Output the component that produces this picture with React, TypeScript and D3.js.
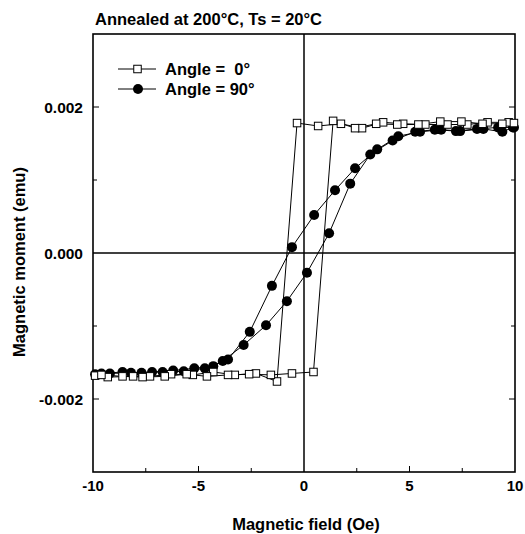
import React from "react";
import * as d3 from "d3";

const title = "Annealed at 200°C, Ts = 20°C";
const xLabel = "Magnetic field (Oe)";
const yLabel = "Magnetic moment (emu)";
const xTicks = [-10, -5, 0, 5, 10];
const xMinorTicks = [-7.5, -5, -2.5, 2.5, 5, 7.5];
const yTicks = [0.002, 0, -0.002];
const yMinorTicks = [0.002, 0.001, -0.001, -0.002];
const legendLabels = ["Angle =  0°", "Angle = 90°"];

// Angle = 0 (squares): descending branch then ascending branch
const sqDescH = [9.7, 8.7, 7.74, 6.8, 5.75, 4.7, 3.75, 2.75, 1.75, 0.67, -0.33, -1.28, -2.28, -3.28, -4.3, -5.27, -6.3, -7.3, -8.1, -9.3, -9.9];
const sqDescM = [0.00179, 0.00179, 0.00176, 0.00176, 0.00176, 0.00177, 0.00179, 0.00171, 0.00177, 0.00174, 0.00178, -0.00176, -0.00165, -0.00167, -0.00163, -0.00167, -0.00166, -0.00169, -0.00169, -0.0017, -0.00168];
const sqAscH = [-9.6, -8.6, -7.65, -6.6, -5.56, -4.6, -3.6, -2.6, -1.57, -0.57, 0.45, 1.38, 2.42, 3.42, 4.42, 5.42, 6.46, 7.46, 8.46, 9.4, 9.95];
const sqAscM = [-0.00167, -0.00169, -0.0017, -0.00169, -0.00166, -0.00169, -0.00167, -0.00166, -0.00167, -0.00165, -0.00163, 0.00181, 0.00171, 0.00177, 0.00176, 0.00176, 0.0018, 0.0018, 0.00177, 0.00177, 0.00178];

// Angle = 90 (circles)
const ciDescH = [9.9, 9.4, 8.5, 7.4, 6.5, 5.5, 4.47, 3.47, 2.42, 1.47, 0.48, -0.57, -1.52, -2.57, -3.6, -4.7, -5.7, -6.7, -7.7, -8.6, -9.6];
const ciDescM = [0.00172, 0.00166, 0.0017, 0.00167, 0.00169, 0.00166, 0.0016, 0.00142, 0.00116, 0.00086, 0.00052, 0.00008, -0.00045, -0.00108, -0.00146, -0.00158, -0.00162, -0.00163, -0.00164, -0.00163, -0.00165];
const ciAscH = [-9.9, -9.2, -8.2, -7.2, -6.2, -5.2, -4.3, -3.85, -2.86, -1.8, -0.81, 0.14, 1.19, 2.19, 3.14, 4.2, 5.27, 6.2, 7.2, 8.2, 9.2, 9.95];
const ciAscM = [-0.00166, -0.00165, -0.00164, -0.00163, -0.00161, -0.00158, -0.00155, -0.00148, -0.00126, -0.00099, -0.00066, -0.00027, 0.00027, 0.00095, 0.00135, 0.00154, 0.00166, 0.00169, 0.00167, 0.0017, 0.00172, 0.00172];

const W = 525;
const H = 534;
const margin = { left: 93, right: 10, top: 34, bottom: 62 };
const font = "'Liberation Sans', Arial, Helvetica, sans-serif";

export default function App() {
  const x = d3.scaleLinear().domain([-10, 10]).range([margin.left, W - margin.right]);
  const y = d3.scaleLinear().domain([-0.003, 0.003]).range([H - margin.bottom, margin.top]);

  const sq = [
    ...sqDescH.map((h, i) => [h, sqDescM[i]] as [number, number]),
    ...sqAscH.map((h, i) => [h, sqAscM[i]] as [number, number]),
  ];
  const ci = [
    ...ciDescH.map((h, i) => [h, ciDescM[i]] as [number, number]),
    ...ciAscH.map((h, i) => [h, ciAscM[i]] as [number, number]),
  ];
  const line = d3.line<[number, number]>().x((d) => x(d[0])).y((d) => y(d[1]));

  const x0 = x(-10), x1 = x(10), y0 = y(-0.003), y1 = y(0.003);
  const sqSize = 7.5;
  const cr = 5;
  const ly1 = 69, ly2 = 89;

  return (
    <svg width={W} height={H} style={{ position: "absolute", left: 0, top: 0 }} fontFamily={font}>
      <rect x={0} y={0} width={W} height={H} fill="white" />
      <text x={95} y={25} fontSize={16.5} fontWeight="bold">{title}</text>
      {/* frame */}
      <rect x={x0} y={y1} width={x1 - x0} height={y0 - y1} fill="none" stroke="black" strokeWidth={1.6} />
      {/* zero lines */}
      <line x1={x(0)} x2={x(0)} y1={y1} y2={y0} stroke="black" strokeWidth={1.5} />
      <line x1={x0} x2={x1} y1={y(0)} y2={y(0)} stroke="black" strokeWidth={1.5} />
      {/* ticks */}
      {xMinorTicks.map((t) => (
        <line key={"xt" + t} x1={x(t)} x2={x(t)} y1={y0} y2={y0 - (Math.abs(t) === 5 ? 6 : 4)} stroke="black" strokeWidth={1} />
      ))}
      {yMinorTicks.map((t) => (
        <line key={"yt" + t} x1={x0} x2={x0 + (Math.abs(t) === 0.002 ? 6 : 4)} y1={y(t)} y2={y(t)} stroke="black" strokeWidth={1} />
      ))}
      {yMinorTicks.map((t) => (
        <line key={"yr" + t} x1={x1} x2={x1 - (Math.abs(t) === 0.002 ? 6 : 4)} y1={y(t)} y2={y(t)} stroke="black" strokeWidth={1} />
      ))}
      {xTicks.map((t) => (
        <text key={"xl" + t} x={x(t)} y={y0 + 19} fontSize={15} fontWeight="bold" textAnchor="middle">{t}</text>
      ))}
      {yTicks.map((t) => (
        <text key={"yl" + t} x={x0 - 10} y={y(t) + 5.5} fontSize={15.5} fontWeight="bold" textAnchor="end">{t.toFixed(3)}</text>
      ))}
      <text x={306} y={530} fontSize={16.5} fontWeight="bold" textAnchor="middle">{xLabel}</text>
      <text transform={`translate(25, 262) rotate(-90)`} fontSize={16.5} fontWeight="bold" textAnchor="middle">{yLabel}</text>

      {/* series lines */}
      <path d={line(sq) || ""} fill="none" stroke="black" strokeWidth={1} />
      <path d={line(ci) || ""} fill="none" stroke="black" strokeWidth={1} />
      {ci.map((d, i) => (
        <circle key={"c" + i} cx={x(d[0])} cy={y(d[1])} r={cr} fill="black" />
      ))}
      {sq.map((d, i) => (
        <rect key={"s" + i} x={x(d[0]) - sqSize / 2} y={y(d[1]) - sqSize / 2} width={sqSize} height={sqSize} fill="white" stroke="black" strokeWidth={1} />
      ))}

      {/* legend */}
      <g>
        <line x1={118} x2={156} y1={ly1} y2={ly1} stroke="black" strokeWidth={1} />
        <rect x={137.5 - sqSize / 2} y={ly1 - sqSize / 2} width={sqSize} height={sqSize} fill="white" stroke="black" strokeWidth={1} />
        <text x={165} y={ly1 + 6} fontSize={16.5} fontWeight="bold" style={{ whiteSpace: "pre" }}>{legendLabels[0]}</text>
        <line x1={118} x2={156} y1={ly2} y2={ly2} stroke="black" strokeWidth={1} />
        <circle cx={138} cy={ly2} r={cr} fill="black" />
        <text x={165} y={ly2 + 6} fontSize={16.5} fontWeight="bold">{legendLabels[1]}</text>
      </g>
    </svg>
  );
}
